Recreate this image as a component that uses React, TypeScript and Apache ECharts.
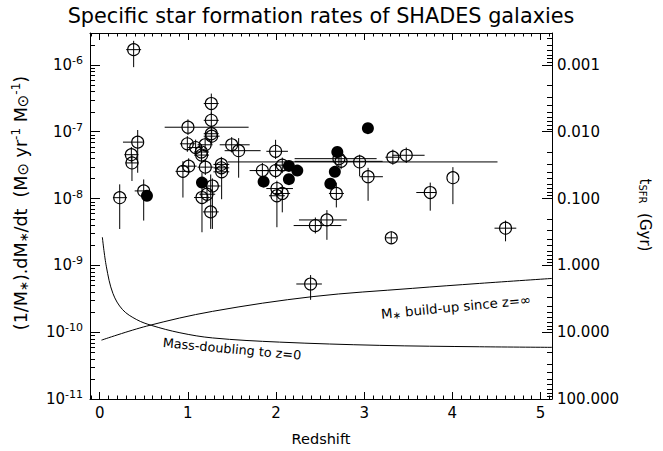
import React, { useEffect, useRef } from 'react';
import * as echarts from 'echarts';

const FONT = "'DejaVu Sans', sans-serif";
const X_MIN = -0.11;
const X_MAX = 5.13;
const Y_MIN = 1e-11;
const Y_MAX = 3e-6;

// Open symbols (with error bars)
const openZ = [0.385, 0.227, 0.359, 0.366, 0.431, 0.499, 1.001, 0.994, 1.088, 1.153, 1.156, 1.196, 1.266, 1.266, 1.266, 1.27, 1.009, 0.944, 1.198, 1.16, 1.217, 1.278, 1.259, 1.38, 1.38, 1.383, 1.497, 1.576, 1.845, 1.995, 1.995, 2.071, 2.01, 2.01, 2.071, 2.446, 2.577, 2.392, 2.684, 2.713, 2.738, 2.948, 3.044, 3.325, 3.477, 4.006, 3.749, 3.307, 4.603];
const openY = [1.69e-6, 1.03e-8, 4.53e-8, 3.41e-8, 6.98e-8, 1.3e-8, 1.167e-7, 6.59e-8, 5.79e-8, 4.97e-8, 4.47e-8, 6.37e-8, 2.64e-7, 1.48e-7, 9.33e-8, 8.57e-8, 3.05e-8, 2.55e-8, 2.95e-8, 1.035e-8, 1.16e-8, 1.54e-8, 6.31e-9, 3.24e-8, 2.88e-8, 2.51e-8, 6.37e-8, 5.2e-8, 2.62e-8, 5.09e-8, 2.62e-8, 3.16e-8, 1.41e-8, 1.1e-8, 1.19e-8, 3.94e-9, 4.78e-9, 5.26e-10, 1.19e-8, 3.95e-8, 3.6e-8, 3.53e-8, 2.12e-8, 4.15e-8, 4.44e-8, 2.05e-8, 1.23e-8, 2.58e-9, 3.6e-9];
const openZLo = [0.3, 0.15, 0.28, 0.29, 0.264, 0.397, 0.737, 0.91, 1.0, 1.07, 1.07, 1.11, 1.18, 1.18, 1.18, 1.18, 0.92, 0.86, 1.11, 1.07, 1.13, 1.19, 1.17, 1.29, 1.29, 1.29, 1.361, 1.417, 1.7, 1.89, 1.757, 1.98, 1.89, 1.92, 1.98, 2.2, 2.26, 2.23, 2.6, 2.211, 2.211, 1.451, 2.948, 3.24, 3.32, 4.006, 3.591, 3.24, 4.478];
const openZHi = [0.47, 0.31, 0.44, 0.44, 0.491, 0.544, 1.689, 1.08, 1.17, 1.24, 1.24, 1.28, 1.35, 1.35, 1.35, 1.36, 1.1, 1.03, 1.29, 1.25, 1.31, 1.37, 1.35, 1.47, 1.47, 1.47, 1.701, 1.825, 1.98, 2.135, 2.268, 2.16, 2.192, 2.1, 2.16, 2.74, 2.804, 2.52, 2.77, 3.141, 3.209, 4.512, 3.212, 3.41, 3.685, 4.006, 3.818, 3.37, 4.725];
const openYLo = [9.25e-7, 3.5e-9, 3.45e-8, 1.83e-8, 2.43e-8, 4.68e-9, 8.9e-8, 5.0e-8, 4.4e-8, 3.8e-8, 3.4e-8, 4.9e-8, 1.77e-7, 1.13e-7, 7.1e-8, 6.5e-8, 2.3e-8, 1.035e-8, 2.25e-8, 3.13e-9, 8.8e-9, 3.51e-9, 3.51e-9, 2.5e-8, 2.2e-8, 9.77e-9, 4.9e-8, 2.05e-8, 2.0e-8, 3.9e-8, 2.0e-8, 2.4e-8, 1.08e-8, 3.72e-9, 6.21e-9, 3.0e-9, 2.41e-9, 3.05e-10, 7.36e-9, 3.0e-8, 2.75e-8, 2.17e-8, 9.25e-9, 3.2e-8, 3.4e-8, 8.24e-9, 6.58e-9, 2.1e-9, 2.29e-9];
const openYHi = [2.29e-6, 1.63e-8, 5.9e-8, 4.5e-8, 1.06e-7, 1.93e-8, 1.53e-7, 8.6e-8, 7.6e-8, 6.5e-8, 5.9e-8, 8.3e-8, 3.72e-7, 1.94e-7, 1.22e-7, 1.12e-7, 4.0e-8, 3.62e-8, 3.9e-8, 2.43e-8, 1.52e-8, 2.0e-8, 2.29e-8, 4.2e-8, 3.8e-8, 4.05e-8, 8.3e-8, 8.02e-8, 3.4e-8, 7.57e-8, 3.4e-8, 4.1e-8, 1.85e-8, 1.44e-8, 1.56e-8, 5.2e-9, 6.71e-9, 7.16e-10, 1.73e-8, 5.2e-8, 4.7e-8, 4.53e-8, 2.88e-8, 5.4e-8, 5.8e-8, 2.95e-8, 1.73e-8, 3.2e-9, 4.68e-9];

// Filled symbols
const filledZ = [0.536, 1.16, 1.859, 2.146, 2.146, 2.241, 2.616, 2.667, 2.695, 3.042];
const filledY = [1.1e-8, 1.73e-8, 1.79e-8, 3.08e-8, 1.95e-8, 2.62e-8, 1.67e-8, 2.51e-8, 4.97e-8, 1.13e-7];

// Model curves
const massDoublingZ = [0.03, 0.076, 0.15, 0.26, 0.42, 0.59, 0.91, 1.28, 2.04, 3.17, 4.31, 5.13];
const massDoublingY = [2.64e-9, 9.5e-10, 3.8e-10, 2.17e-10, 1.54e-10, 1.26e-10, 9.8e-11, 8.2e-11, 7.1e-11, 6.35e-11, 6.05e-11, 5.93e-11];
const buildUpZ = [0.02, 0.53, 1.28, 2.42, 3.55, 4.31, 5.13];
const buildUpY = [7.6e-11, 1.23e-10, 2.05e-10, 3.41e-10, 4.53e-10, 5.37e-10, 6.37e-10];

// Axis tick helpers
const decades = [-11, -10, -9, -8, -7, -6];
const minorMultipliers = [2, 3, 4, 5, 6, 7, 8, 9];
const tsfrDecades = [-4, -3, -2, -1, 0, 1]; // Gyr

const leftMinor: number[] = [];
decades.forEach((e) => minorMultipliers.forEach((k) => {
  const v = k * Math.pow(10, e);
  if (v > Y_MIN && v < Y_MAX) leftMinor.push(v);
}));
const rightMinor: number[] = [];
tsfrDecades.forEach((e) => minorMultipliers.forEach((k) => {
  const v = 1e-9 / (k * Math.pow(10, e));
  if (v > Y_MIN && v < Y_MAX) rightMinor.push(v);
}));

const isDecade = (v: number) => {
  const l = Math.log10(v);
  return Math.abs(l - Math.round(l)) < 1e-4;
};

export default function App() {
  const ref = useRef<HTMLDivElement>(null);
  useEffect(() => {
    document.body.style.margin = '0';
    const chart = echarts.init(ref.current!, null, { renderer: 'svg' });
    const black = '#000';
    const lineStyle = { color: black, width: 1 };

    const xAxisBase = {
      type: 'value',
      min: X_MIN,
      max: X_MAX,
      splitNumber: 5,
      axisLine: { show: true, onZero: false, lineStyle },
      axisTick: { show: true, inside: true, length: 7, lineStyle },
      minorTick: { show: true, splitNumber: 10, length: 3.5, lineStyle },
      splitLine: { show: false },
    };
    const yAxisBase = {
      type: 'log',
      logBase: 10,
      min: Y_MIN,
      max: Y_MAX,
      axisLine: { show: true, onZero: false, lineStyle },
      axisTick: { show: true, inside: true, length: 10, lineStyle },
      splitLine: { show: false },
    };

    const minorTickSeries = (values: number[], xEdge: number, dir: number) => ({
      type: 'custom',
      silent: true,
      clip: false,
      dimensions: ['x', 'y'],
      encode: { x: 0, y: 1 },
      data: values.map((v) => [xEdge, v]),
      renderItem: (params: any, api: any) => {
        const p = api.coord([api.value(0), api.value(1)]);
        const y = Math.round(p[1]) + 0.5;
        return {
          type: 'line',
          shape: { x1: p[0], y1: y, x2: p[0] + dir * 5, y2: y },
          style: { stroke: black, lineWidth: 1, fill: null },
        };
      },
      z: 10,
    });

    const option: any = {
      animation: false,
      textStyle: { fontFamily: FONT },
      grid: { left: 90, right: 111, top: 33, bottom: 47.5 },
      xAxis: [
        {
          ...xAxisBase,
          position: 'bottom',
          axisLabel: {
            margin: 6,
            fontSize: 15,
            color: black,
            fontFamily: FONT,
            formatter: (v: number) => (Math.abs(v - Math.round(v)) < 1e-6 ? String(Math.round(v)) : ''),
          },
          name: 'Redshift',
          nameLocation: 'middle',
          nameGap: 32,
          nameTextStyle: { fontSize: 14.5, color: black, fontFamily: FONT },
        },
        {
          ...xAxisBase,
          position: 'top',
          axisLabel: { show: false },
        },
      ],
      yAxis: [
        {
          ...yAxisBase,
          position: 'left',
          axisLabel: {
            margin: 7,
            color: black,
            formatter: (v: number) => (isDecade(v) ? `{b|10}{s|${Math.round(Math.log10(v))}}` : ''),
            rich: {
              b: { fontSize: 15, fontFamily: FONT, color: black },
              s: { fontSize: 11, fontFamily: FONT, color: black, padding: [0, 0, 9, 0] },
            },
          },
        },
        {
          ...yAxisBase,
          position: 'right',
          axisLabel: {
            margin: 5,
            fontSize: 15,
            color: black,
            fontFamily: FONT,
            formatter: (v: number) => (isDecade(v) ? (1e-9 / v).toFixed(3) : ''),
          },
        },
      ],
      graphic: [
        {
          type: 'text',
          x: 321,
          y: 16,
          style: {
            text: 'Specific star formation rates of SHADES galaxies',
            fontSize: 20.8,
            fontFamily: FONT,
            fill: black,
            align: 'center',
            verticalAlign: 'middle',
          },
        },
        {
          type: 'text',
          x: 21,
          y: 203,
          rotation: Math.PI / 2,
          style: {
            text: '(1/M{s|∗}).dM{s|∗}/dt  (M{o|⊙} yr{p|-1} M{o|⊙}{p|-1})',
            fontSize: 17.5,
            fontFamily: FONT,
            fill: black,
            align: 'center',
            verticalAlign: 'middle',
            rich: {
              s: { fontSize: 12, fontFamily: FONT, fill: black, padding: [6, 0, 0, 0] },
              o: { fontSize: 15, fontFamily: FONT, fill: black, padding: [3, 0, 0, 0] },
              p: { fontSize: 12, fontFamily: FONT, fill: black, padding: [0, 0, 10, 0] },
            },
          },
        },
        {
          type: 'text',
          x: 645,
          y: 215,
          rotation: -Math.PI / 2,
          style: {
            text: 't{s|SFR}  (Gyr)',
            fontSize: 15,
            fontFamily: FONT,
            fill: black,
            align: 'center',
            verticalAlign: 'middle',
            rich: {
              s: { fontSize: 10, fontFamily: FONT, fill: black, padding: [5, 0, 0, 0] },
            },
          },
        },
        {
          type: 'text',
          x: 456,
          y: 307,
          rotation: 0.096,
          style: {
            text: 'M{s|∗} build-up since z=∞',
            fontSize: 13.3,
            fontFamily: FONT,
            fill: black,
            align: 'center',
            verticalAlign: 'middle',
            rich: { s: { fontSize: 10, fontFamily: FONT, fill: black, padding: [5, 0, 0, 0] } },
          },
        },
        {
          type: 'text',
          x: 232,
          y: 349,
          rotation: -0.092,
          style: {
            text: 'Mass-doubling to z=0',
            fontSize: 12.8,
            fontFamily: FONT,
            fill: black,
            align: 'center',
            verticalAlign: 'middle',
          },
        },
      ],
      series: [
        minorTickSeries(leftMinor, X_MIN, 1),
        minorTickSeries(rightMinor, X_MAX, -1),
        {
          type: 'line',
          data: massDoublingZ.map((z, i) => [z, massDoublingY[i]]),
          symbol: 'none',
          smooth: 0.35,
          lineStyle: { color: black, width: 1 },
          silent: true,
        },
        {
          type: 'line',
          data: buildUpZ.map((z, i) => [z, buildUpY[i]]),
          symbol: 'none',
          smooth: 0.35,
          lineStyle: { color: black, width: 1 },
          silent: true,
        },
        {
          type: 'custom',
          silent: true,
          data: openZ.map((z, i) => [z, openY[i], openZLo[i], openZHi[i], openYLo[i], openYHi[i]]),
          encode: { x: 0, y: 1 },
          renderItem: (params: any, api: any) => {
            const c = api.coord([api.value(0), api.value(1)]);
            const l = api.coord([api.value(2), api.value(1)]);
            const r = api.coord([api.value(3), api.value(1)]);
            const b = api.coord([api.value(0), api.value(4)]);
            const t = api.coord([api.value(0), api.value(5)]);
            const st = { stroke: black, lineWidth: 1 };
            return {
              type: 'group',
              children: [
                { type: 'line', shape: { x1: l[0], y1: c[1], x2: r[0], y2: c[1] }, style: st },
                { type: 'line', shape: { x1: c[0], y1: t[1], x2: c[0], y2: b[1] }, style: st },
              ],
            };
          },
          z: 3,
        },
        {
          type: 'scatter',
          data: openZ.map((z, i) => [z, openY[i]]),
          symbol: 'circle',
          symbolSize: 12,
          itemStyle: { color: 'transparent', borderColor: black, borderWidth: 1.1, opacity: 1 },
          silent: true,
          z: 4,
        },
        {
          type: 'scatter',
          data: filledZ.map((z, i) => [z, filledY[i]]),
          symbol: 'circle',
          symbolSize: 12,
          itemStyle: { color: black, borderColor: black, borderWidth: 0, opacity: 1 },
          silent: true,
          z: 4,
        },
      ],
    };
    chart.setOption(option);
    return () => chart.dispose();
  }, []);
  return <div ref={ref} style={{ width: 663, height: 451 }} />;
}
